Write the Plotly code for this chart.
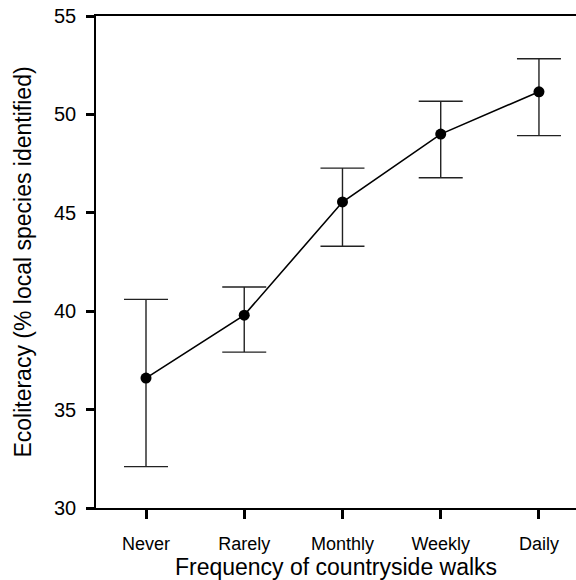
import plotly.graph_objects as go

categories = ["Never", "Rarely", "Monthly", "Weekly", "Daily"]
means = [36.6, 39.8, 45.55, 49.0, 51.15]
upper = [40.6, 41.23, 47.27, 50.67, 52.83]
lower = [32.1, 37.92, 43.3, 46.78, 48.92]

err_plus = [u - m for u, m in zip(upper, means)]
err_minus = [m - l for m, l in zip(means, lower)]
xpos = list(range(len(categories)))

fig = go.Figure()
fig.add_trace(go.Scatter(
    x=xpos, y=means, mode="lines+markers",
    line=dict(color="black", width=1.6),
    marker=dict(color="black", size=11),
    error_y=dict(type="data", symmetric=False, array=err_plus, arrayminus=err_minus,
                 color="#222222", thickness=1.4, width=22),
    showlegend=False,
))

font = "Liberation Sans, Arial, Helvetica, sans-serif"
fig.update_layout(
    width=576, height=580,
    margin=dict(l=96, r=0, t=16, b=72),
    paper_bgcolor="white", plot_bgcolor="white",
    font=dict(family=font, color="black", size=18),
    xaxis=dict(
        tickmode="array", tickvals=xpos, ticktext=categories,
        range=[-0.509, 4.377],
        showline=True, linecolor="black", linewidth=1.5, mirror=True,
        ticks="outside", ticklen=9, tickwidth=2.5, tickcolor="black",
        showgrid=False, zeroline=False,
        tickfont=dict(size=18),
        ticklabelstandoff=10,
        title=dict(text="Frequency of countryside walks", font=dict(size=23), standoff=4),
    ),
    yaxis=dict(
        range=[30, 55], tickvals=[30, 35, 40, 45, 50, 55],
        showline=True, linecolor="black", linewidth=1.5,
        ticks="outside", ticklen=8, tickwidth=2.5, tickcolor="black",
        showgrid=False, zeroline=False,
        tickfont=dict(size=20),
        ticklabelstandoff=6,
        title=dict(text="Ecoliteracy (% local species identified)", font=dict(size=23), standoff=16),
    ),
)

fig.write_html("out.html")
